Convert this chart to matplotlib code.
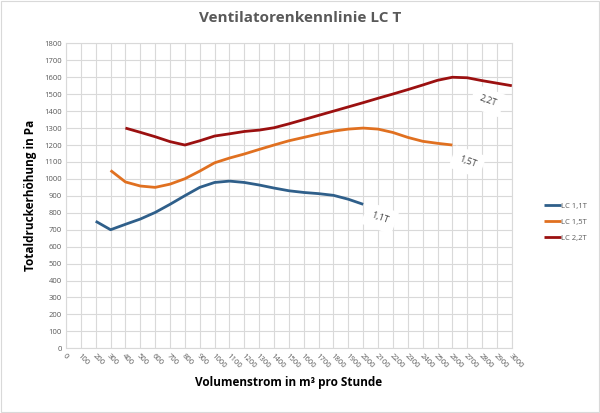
import matplotlib
matplotlib.use("Agg")
import matplotlib.pyplot as plt
from matplotlib.patches import Rectangle

plt.rcParams['font.family'] = ['Open Sans', 'DejaVu Sans']

x_11 = [200, 300, 400, 500, 600, 700, 800, 900, 1000, 1100, 1200, 1300, 1400, 1500, 1600, 1700, 1800, 1900, 2000]
y_11 = [750, 700, 732, 763, 802, 850, 901, 950, 979, 987, 979, 964, 946, 930, 920, 913, 903, 880, 850]

x_15 = [300, 400, 500, 600, 700, 800, 900, 1000, 1100, 1200, 1300, 1400, 1500, 1600, 1700, 1800, 1900, 2000, 2100, 2200, 2300, 2400, 2500, 2600]
y_15 = [1050, 982, 958, 950, 969, 1001, 1046, 1095, 1123, 1147, 1174, 1200, 1225, 1245, 1265, 1282, 1294, 1300, 1294, 1274, 1245, 1222, 1210, 1200]

x_22 = [400, 500, 600, 700, 800, 900, 1000, 1100, 1200, 1300, 1400, 1500, 1600, 1700, 1800, 1900, 2000, 2100, 2200, 2300, 2400, 2500, 2600, 2700, 2800, 2900, 3000]
y_22 = [1300, 1275, 1249, 1220, 1200, 1225, 1253, 1266, 1280, 1288, 1302, 1325, 1350, 1375, 1400, 1425, 1450, 1476, 1501, 1527, 1554, 1582, 1600, 1597, 1580, 1565, 1550]

series_names = ['LC 1,1T', 'LC 1,5T', 'LC 2,2T']
series_colors = ['#2f5f8a', '#e07020', '#9b1010']
labels = ['1,1T', '1,5T', '2,2T']
label_x = [2112, 2702, 2837]
label_y = [769, 1101, 1461]

x_ticks = list(range(0, 3001, 100))
y_ticks = list(range(0, 1801, 100))

fig = plt.figure(figsize=(6.0, 4.13), dpi=100)
ax = fig.add_axes([0.11, 0.1566, 0.743, 0.7384])

for xs, ys, name, c in zip([x_11, x_15, x_22], [y_11, y_15, y_22], series_names, series_colors):
    ax.plot(xs, ys, color=c, lw=2.0, label=name, solid_capstyle='butt', solid_joinstyle='round', zorder=3)

for t, lx, ly in zip(labels, label_x, label_y):
    ax.text(lx, ly, t, rotation=-20, ha='center', va='center', fontsize=6.5, color='#404040',
            bbox=dict(boxstyle='square,pad=0.8', fc='white', ec='none'), zorder=4)

ax.set_xlim(0, 3000)
ax.set_ylim(0, 1800)
ax.set_xticks(x_ticks)
ax.set_yticks(y_ticks)
ax.set_xticklabels([str(v) for v in x_ticks], rotation=-45, ha='left', rotation_mode='anchor', fontsize=5.5, color='#595959')
ax.set_yticklabels([str(v) for v in y_ticks], fontsize=5.5, color='#595959')
ax.tick_params(length=0, pad=3)
ax.grid(True, color='#d9d9d9', lw=0.8)
ax.set_axisbelow(True)
for s in ax.spines.values():
    s.set_color('#d9d9d9')
    s.set_linewidth(0.8)

ax.set_xlabel('Volumenstrom in m³ pro Stunde', fontsize=8.5, fontweight='bold', color='black', labelpad=4)
ax.set_ylabel('Totaldruckerhöhung in Pa', fontsize=8.5, fontweight='bold', color='black', labelpad=5)

fig.text(0.5, 0.957, 'Ventilatorenkennlinie LC T', ha='center', va='center', fontsize=11, fontweight='bold', color='#595959')

leg = fig.legend(loc='center left', bbox_to_anchor=(0.895, 0.462), frameon=False, fontsize=5.5,
                 handlelength=2.2, handletextpad=0.1, labelspacing=1.1, labelcolor='#595959')

fig.patches.append(Rectangle((0.002, 0.002), 0.996, 0.996, transform=fig.transFigure, fill=False, ec='#d9d9d9', lw=0.8))

fig.savefig('out.png', dpi=100)
